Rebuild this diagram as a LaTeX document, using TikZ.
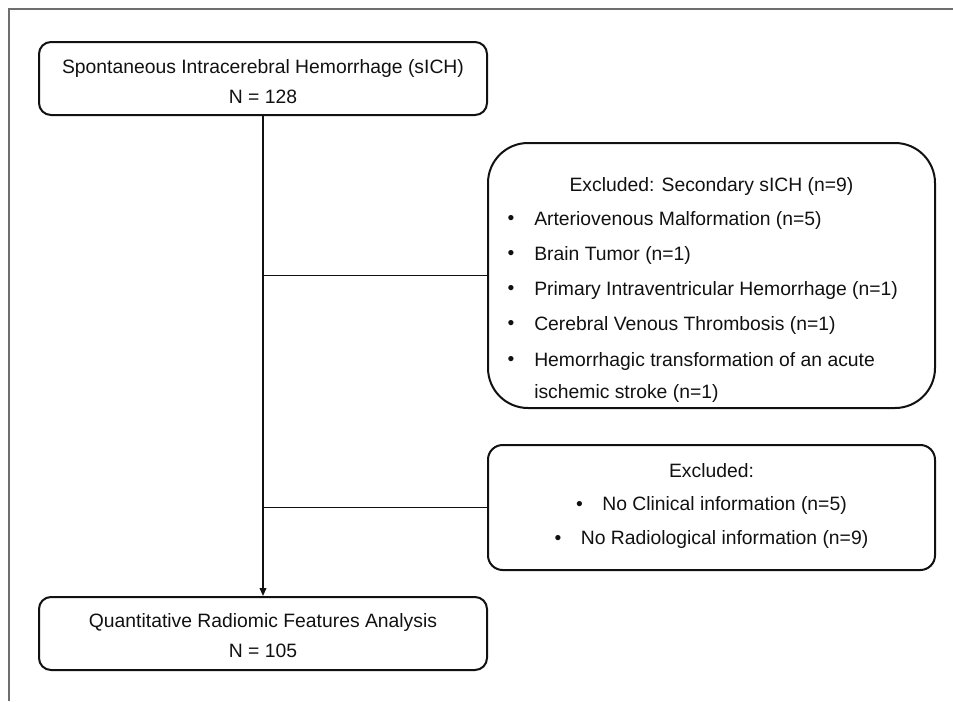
\documentclass[tikz,border=0pt]{standalone}
\usepackage{fontspec}
\setmainfont{Liberation Sans}
\usetikzlibrary{arrows.meta}
\definecolor{frameline}{HTML}{6E6E6E}
\definecolor{inkblack}{HTML}{111111}

\begin{document}
\begin{tikzpicture}[x=0.75pt,y=-0.75pt,
  box/.style={draw=inkblack,line width=1.5pt,minimum width=447,inner sep=0pt},
  txt/.style={font=\fontsize{14.5}{17}\selectfont,text=inkblack,inner sep=0pt},
  bul/.style={font=\fontsize{14.5}{17}\selectfont,text=inkblack,inner sep=0pt,anchor=center},
  item/.style={font=\fontsize{14.5}{17}\selectfont,text=inkblack,inner sep=0pt,anchor=west},
  link/.style={draw=inkblack,line width=1.1pt}]
\useasboundingbox (0,0) rectangle (953,701);
% frame
\draw[frameline,line width=1.5pt] (953,9) -- (9,9) -- (9,701);
% boxes
\node[box,rounded corners=9pt,minimum width=336pt,minimum height=54.75pt] (cohort) at (263,78.5) {};
\node[txt] (cohorttitle) at (263,68) {Spontaneous Intracerebral Hemorrhage (sICH)};
\node[txt] (cohortn) at (263,97) {N = 128};
\node[box,rounded corners=30pt,minimum width=335.25pt,minimum height=198.75pt] (secondary) at (711.5,275.5) {};
\node[txt] (sectitle) at (711.5,186) {Excluded: Secondary sICH (n=9)};
\node[bul] at (511,220) {•};
\node[item] at (534,220) {Arteriovenous Malformation (n=5)};
\node[bul] at (511,255) {•};
\node[item] at (534,255) {Brain Tumor (n=1)};
\node[bul] at (511,290) {•};
\node[item] at (534,290) {Primary Intraventricular Hemorrhage (n=1)};
\node[bul] at (511,325) {•};
\node[item] at (534,325) {Cerebral Venous Thrombosis (n=1)};
\node[bul] at (511,361) {•};
\node[item] at (534,361) {Hemorrhagic transformation of an acute};
\node[item] at (534,393) {ischemic stroke (n=1)};
\node[box,rounded corners=11pt,minimum width=335.25pt,minimum height=93.75pt] (missing) at (711.5,507.5) {};
\node[txt] (misstitle) at (711.5,471) {Excluded:};
\node[txt] (missclin) at (711.5,505) {•\quad No Clinical information (n=5)};
\node[txt] (missrad) at (711.5,539) {•\quad No Radiological information (n=9)};
\node[box,rounded corners=9pt,minimum width=336pt,minimum height=54.75pt] (analysis) at (263,633.5) {};
\node[txt] (analysistitle) at (263,622) {Quantitative Radiomic Features Analysis};
\node[txt] (analysisn) at (263,651) {N = 105};
% connectors
\draw[link,-{Triangle[length=6pt,width=5pt]}] (cohort.south) -- (analysis.north);
\draw[link] (cohort.south |- secondary.west) -- (secondary.west);
\draw[link] (cohort.south |- missing.west) -- (missing.west);
\end{tikzpicture}
\end{document}
